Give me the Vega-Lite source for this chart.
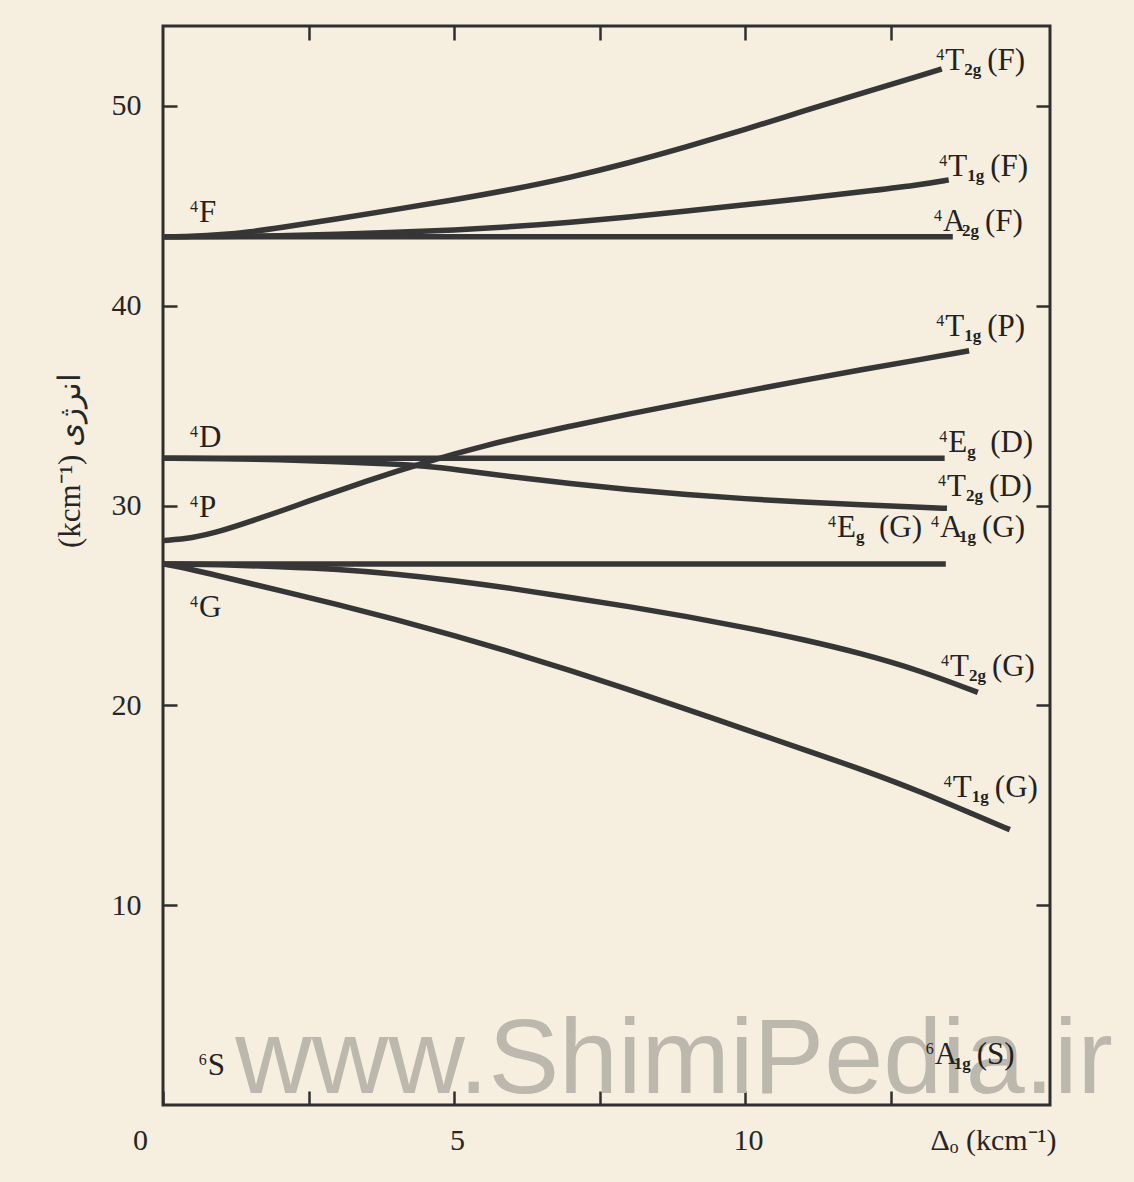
{
  "$schema": "https://vega.github.io/schema/vega-lite/v6.json",
  "autosize": {"type": "none"},
  "padding": {"left": 163, "top": 26, "right": 84, "bottom": 77},
  "width": 887,
  "height": 1079,
  "background": "#f6eedf",
  "config": {
    "view": {"stroke": "#2f2f2f", "strokeWidth": 3},
    "axis": {"domain": false, "grid": false, "tickColor": "#2f2f2f", "tickWidth": 2.5, "tickSize": -14, "labelFont": "Liberation Serif", "labelFontSize": 30, "labelColor": "#262626", "labelFlush": false, "labelOverlap": false, "labelBound": false, "titleFont": "Liberation Serif", "titleColor": "#262626", "titleFontWeight": "normal"}
  },
  "datasets": {
    "curves": [
      {"s": "A2g_F", "x": 0, "y": 43.45}, {"s": "A2g_F", "x": 13.57, "y": 43.45},
      {"s": "T1g_F", "x": 0, "y": 43.45}, {"s": "T1g_F", "x": 1, "y": 43.46}, {"s": "T1g_F", "x": 2, "y": 43.5}, {"s": "T1g_F", "x": 3, "y": 43.58}, {"s": "T1g_F", "x": 4, "y": 43.67}, {"s": "T1g_F", "x": 5, "y": 43.79}, {"s": "T1g_F", "x": 6, "y": 43.95}, {"s": "T1g_F", "x": 7, "y": 44.17}, {"s": "T1g_F", "x": 8, "y": 44.44}, {"s": "T1g_F", "x": 9, "y": 44.74}, {"s": "T1g_F", "x": 10, "y": 45.05}, {"s": "T1g_F", "x": 11, "y": 45.37}, {"s": "T1g_F", "x": 12, "y": 45.7}, {"s": "T1g_F", "x": 13, "y": 46.05}, {"s": "T1g_F", "x": 13.5, "y": 46.3},
      {"s": "T2g_F", "x": 0, "y": 43.45}, {"s": "T2g_F", "x": 0.5, "y": 43.47}, {"s": "T2g_F", "x": 1, "y": 43.55}, {"s": "T2g_F", "x": 1.5, "y": 43.7}, {"s": "T2g_F", "x": 2, "y": 43.9}, {"s": "T2g_F", "x": 3, "y": 44.35}, {"s": "T2g_F", "x": 4, "y": 44.82}, {"s": "T2g_F", "x": 5, "y": 45.3}, {"s": "T2g_F", "x": 6, "y": 45.82}, {"s": "T2g_F", "x": 7, "y": 46.42}, {"s": "T2g_F", "x": 8, "y": 47.14}, {"s": "T2g_F", "x": 9, "y": 47.95}, {"s": "T2g_F", "x": 10, "y": 48.82}, {"s": "T2g_F", "x": 11, "y": 49.74}, {"s": "T2g_F", "x": 12, "y": 50.64}, {"s": "T2g_F", "x": 13, "y": 51.5}, {"s": "T2g_F", "x": 13.38, "y": 51.85},
      {"s": "T1g_P", "x": 0, "y": 28.25}, {"s": "T1g_P", "x": 0.5, "y": 28.36}, {"s": "T1g_P", "x": 1, "y": 28.72}, {"s": "T1g_P", "x": 1.5, "y": 29.2}, {"s": "T1g_P", "x": 2, "y": 29.7}, {"s": "T1g_P", "x": 2.5, "y": 30.22}, {"s": "T1g_P", "x": 3, "y": 30.73}, {"s": "T1g_P", "x": 3.5, "y": 31.22}, {"s": "T1g_P", "x": 4, "y": 31.7}, {"s": "T1g_P", "x": 4.5, "y": 32.15}, {"s": "T1g_P", "x": 5, "y": 32.58}, {"s": "T1g_P", "x": 5.5, "y": 32.97}, {"s": "T1g_P", "x": 6, "y": 33.33}, {"s": "T1g_P", "x": 7, "y": 33.98}, {"s": "T1g_P", "x": 8, "y": 34.58}, {"s": "T1g_P", "x": 9, "y": 35.15}, {"s": "T1g_P", "x": 10, "y": 35.72}, {"s": "T1g_P", "x": 11, "y": 36.27}, {"s": "T1g_P", "x": 12, "y": 36.8}, {"s": "T1g_P", "x": 13, "y": 37.3}, {"s": "T1g_P", "x": 13.85, "y": 37.75},
      {"s": "Eg_D", "x": 0, "y": 32.37}, {"s": "Eg_D", "x": 13.43, "y": 32.37},
      {"s": "T2g_D", "x": 0, "y": 32.37}, {"s": "T2g_D", "x": 1, "y": 32.35}, {"s": "T2g_D", "x": 2, "y": 32.3}, {"s": "T2g_D", "x": 3, "y": 32.2}, {"s": "T2g_D", "x": 4, "y": 32.08}, {"s": "T2g_D", "x": 4.5, "y": 31.97}, {"s": "T2g_D", "x": 5, "y": 31.82}, {"s": "T2g_D", "x": 6, "y": 31.44}, {"s": "T2g_D", "x": 7, "y": 31.09}, {"s": "T2g_D", "x": 8, "y": 30.8}, {"s": "T2g_D", "x": 9, "y": 30.55}, {"s": "T2g_D", "x": 10, "y": 30.34}, {"s": "T2g_D", "x": 11, "y": 30.17}, {"s": "T2g_D", "x": 12, "y": 30.03}, {"s": "T2g_D", "x": 13, "y": 29.92}, {"s": "T2g_D", "x": 13.47, "y": 29.86},
      {"s": "Eg_A1g_G", "x": 0, "y": 27.08}, {"s": "Eg_A1g_G", "x": 13.45, "y": 27.08},
      {"s": "T2g_G", "x": 0, "y": 27.08}, {"s": "T2g_G", "x": 1, "y": 27.04}, {"s": "T2g_G", "x": 2, "y": 26.95}, {"s": "T2g_G", "x": 3, "y": 26.82}, {"s": "T2g_G", "x": 4, "y": 26.58}, {"s": "T2g_G", "x": 5, "y": 26.25}, {"s": "T2g_G", "x": 6, "y": 25.85}, {"s": "T2g_G", "x": 7, "y": 25.4}, {"s": "T2g_G", "x": 8, "y": 24.95}, {"s": "T2g_G", "x": 9, "y": 24.45}, {"s": "T2g_G", "x": 10, "y": 23.9}, {"s": "T2g_G", "x": 11, "y": 23.3}, {"s": "T2g_G", "x": 12, "y": 22.6}, {"s": "T2g_G", "x": 13, "y": 21.75}, {"s": "T2g_G", "x": 14, "y": 20.65},
      {"s": "T1g_G", "x": 0, "y": 27.08}, {"s": "T1g_G", "x": 0.5, "y": 26.8}, {"s": "T1g_G", "x": 1, "y": 26.45}, {"s": "T1g_G", "x": 1.5, "y": 26.1}, {"s": "T1g_G", "x": 2, "y": 25.75}, {"s": "T1g_G", "x": 3, "y": 25.05}, {"s": "T1g_G", "x": 4, "y": 24.3}, {"s": "T1g_G", "x": 5, "y": 23.5}, {"s": "T1g_G", "x": 6, "y": 22.65}, {"s": "T1g_G", "x": 7, "y": 21.75}, {"s": "T1g_G", "x": 8, "y": 20.8}, {"s": "T1g_G", "x": 9, "y": 19.8}, {"s": "T1g_G", "x": 10, "y": 18.8}, {"s": "T1g_G", "x": 11, "y": 17.8}, {"s": "T1g_G", "x": 12, "y": 16.8}, {"s": "T1g_G", "x": 13, "y": 15.7}, {"s": "T1g_G", "x": 14, "y": 14.45}, {"s": "T1g_G", "x": 14.55, "y": 13.78}
    ],
    "labels": [
      {"sup": "4", "main": "F", "sub": "", "tail": "", "x": 0.62, "y": 44.19},
      {"sup": "4", "main": "D", "sub": "", "tail": "", "x": 0.62, "y": 32.93},
      {"sup": "4", "main": "P", "sub": "", "tail": "", "x": 0.62, "y": 29.43},
      {"sup": "4", "main": "G", "sub": "", "tail": "", "x": 0.62, "y": 24.42},
      {"sup": "6", "main": "S", "sub": "", "tail": "", "x": 0.77, "y": 1.5},
      {"sup": "4", "main": "T", "sub": "2g", "tail": "(F)", "x": 13.44, "y": 51.8},
      {"sup": "4", "main": "T", "sub": "1g", "tail": "(F)", "x": 13.49, "y": 46.5},
      {"sup": "4", "main": "A", "sub": "2g", "tail": "(F)", "x": 13.4, "y": 43.74},
      {"sup": "4", "main": "T", "sub": "1g", "tail": "(P)", "x": 13.44, "y": 38.49},
      {"sup": "4", "main": "E", "sub": "g", "tail": "(D)", "x": 13.49, "y": 32.68},
      {"sup": "4", "main": "T", "sub": "2g", "tail": "(D)", "x": 13.47, "y": 30.48},
      {"sup": "4", "main": "E", "sub": "g", "tail": "(G)", "x": 11.58, "y": 28.43},
      {"sup": "4", "main": "A", "sub": "1g", "tail": "(G)", "x": 13.35, "y": 28.43},
      {"sup": "4", "main": "T", "sub": "2g", "tail": "(G)", "x": 13.52, "y": 21.47},
      {"sup": "4", "main": "T", "sub": "1g", "tail": "(G)", "x": 13.57, "y": 15.42},
      {"sup": "6", "main": "A", "sub": "1g", "tail": "(S)", "x": 13.26, "y": 2.05}
    ],
    "watermark": [{"text": "www.ShimiPedia.ir", "x": 1.24, "y": 0.6}]
  },
  "layer": [
    {
      "data": {"name": "watermark"},
      "mark": {"type": "text", "align": "left", "baseline": "alphabetic", "font": "Liberation Sans", "fontSize": 106, "color": "#bdb8ae"},
      "encoding": {
        "x": {"field": "x", "type": "quantitative", "scale": {"domain": [0, 15.24], "nice": false, "zero": false},
              "axis": {"orient": "top", "labels": false, "values": [2.5, 5, 7.5, 10, 12.5], "title": null}},
        "y": {"field": "y", "type": "quantitative", "scale": {"domain": [0, 54], "nice": false, "zero": false},
              "axis": {"orient": "right", "labels": false, "values": [10, 20, 30, 40, 50], "title": null}},
        "text": {"field": "text"}
      }
    },
    {
      "data": {"name": "curves"},
      "mark": {"type": "line", "interpolate": "basis", "strokeWidth": 5.5, "color": "#363636", "strokeCap": "butt"},
      "encoding": {
        "x": {"field": "x", "type": "quantitative", "scale": {"domain": [0, 15.24], "nice": false, "zero": false},
              "axis": {"orient": "bottom", "values": [0, 2.5, 5, 7.5, 10, 12.5], "labelExpr": "datum.value % 5 === 0 ? datum.label : ''",
                       "labelPadding": 34, "labelOffset": {"condition": {"test": "datum.value === 0", "value": -23}, "value": 3},
                       "title": "Δₒ  (kcm⁻¹)", "titleFontSize": 30, "titleAlign": "left", "titleBaseline": "alphabetic", "titleX": 767, "titleY": 44}},
        "y": {"field": "y", "type": "quantitative", "scale": {"domain": [0, 54], "nice": false, "zero": false},
              "axis": {"orient": "left", "values": [10, 20, 30, 40, 50], "labelPadding": 36,
                       "title": "(kcm⁻¹) انرژی", "titleFontSize": 31, "titleAngle": 270, "titleAlign": "center", "titleBaseline": "middle", "titleX": -93, "titleY": 434}},
        "detail": {"field": "s"}
      }
    },
    {
      "data": {"name": "labels"},
      "mark": {"type": "text", "align": "right", "baseline": "alphabetic", "font": "Liberation Serif", "fontSize": 16, "color": "#222222", "dx": -1, "dy": -10},
      "encoding": {
        "x": {"field": "x", "type": "quantitative", "axis": null},
        "y": {"field": "y", "type": "quantitative", "axis": null},
        "text": {"field": "sup"}
      }
    },
    {
      "data": {"name": "labels"},
      "mark": {"type": "text", "align": "left", "baseline": "alphabetic", "font": "Liberation Serif", "fontSize": 31, "color": "#222222"},
      "encoding": {
        "x": {"field": "x", "type": "quantitative", "axis": null},
        "y": {"field": "y", "type": "quantitative", "axis": null},
        "text": {"field": "main"}
      }
    },
    {
      "data": {"name": "labels"},
      "mark": {"type": "text", "align": "left", "baseline": "alphabetic", "font": "Liberation Serif", "fontSize": 17, "fontWeight": "bold", "color": "#222222", "dx": 19, "dy": 5},
      "encoding": {
        "x": {"field": "x", "type": "quantitative", "axis": null},
        "y": {"field": "y", "type": "quantitative", "axis": null},
        "text": {"field": "sub"}
      }
    },
    {
      "data": {"name": "labels"},
      "mark": {"type": "text", "align": "left", "baseline": "alphabetic", "font": "Liberation Serif", "fontSize": 31, "color": "#222222", "dx": 42},
      "encoding": {
        "x": {"field": "x", "type": "quantitative", "axis": null},
        "y": {"field": "y", "type": "quantitative", "axis": null},
        "text": {"field": "tail"}
      }
    }
  ],
  "resolve": {"axis": {"x": "independent", "y": "independent"}}
}
